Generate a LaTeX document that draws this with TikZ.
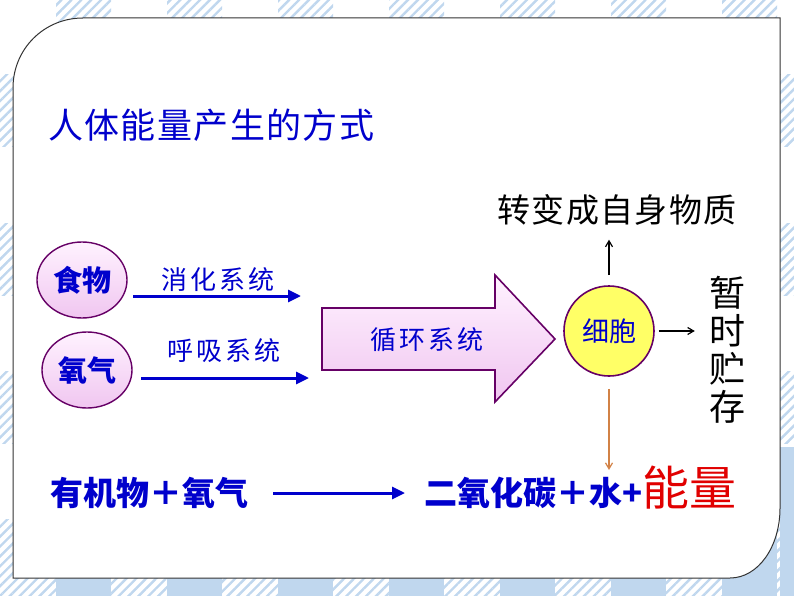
\documentclass[tikz,border=0pt]{standalone}
\usepackage{fontspec}
\newfontfamily\cjk{Noto Sans CJK SC}
\newfontfamily\cjkwide[LetterSpace=12]{Noto Sans CJK SC}
\newfontfamily\cjktight[LetterSpace=4]{Noto Sans CJK SC}
\usetikzlibrary{arrows.meta, patterns.meta, shapes.geometric}

\definecolor{txtblue}{RGB}{0,0,204}
\definecolor{txtred}{RGB}{225,0,0}
\definecolor{edgepurple}{RGB}{102,0,102}
\definecolor{pinktop}{RGB}{255,242,255}
\definecolor{pinkbot}{RGB}{240,198,240}
\definecolor{cellyellow}{RGB}{255,255,102}
\definecolor{bgblue}{RGB}{192,215,238}
\definecolor{brownline}{RGB}{210,130,70}

\tikzset{
  hatch/.style={pattern={Lines[angle=45,distance=7pt,line width=2.4pt]}, pattern color=bgblue},
  organ/.style={ellipse, draw=edgepurple, line width=1.4pt, top color=pinktop, bottom color=pinkbot,
    minimum width=90pt, minimum height=76pt, inner sep=0pt, text=txtblue,
    font=\cjk\bfseries\fontsize{29}{31}\selectfont},
  syslabel/.style={inner sep=0pt, text=txtblue, font=\cjkwide\fontsize{26}{28}\selectfont},
  bluearrow/.style={-{Triangle[length=13pt,width=12pt]}, txtblue, line width=3pt},
  thinarrow/.style={-{Straight Barb[length=6pt,width=7pt]}, black, line width=1.2pt},
  blackbig/.style={inner sep=0pt, text=black, font=\cjktight\fontsize{33}{35}\selectfont},
  eqn/.style={inner sep=0pt, text=txtblue, font=\cjk\bfseries\fontsize{33}{35}\selectfont}
}

\begin{document}
\begin{tikzpicture}[x=1pt, y=-1pt]
  \useasboundingbox (0,0) rectangle (794,596);

  % backdrop: hatched bands, solid where they cross
  \foreach \xx in {56,167,...,834} {
    \fill[hatch] (\xx,0) rectangle ++(55,596);
  }
  \foreach \yy in {75,223,371} {
    \fill[hatch] (0,\yy) rectangle ++(794,72);
  }
  \fill[hatch] (0,519) rectangle (794,596);
  \foreach \xx in {56,167,...,834} {
    \fill[bgblue] (\xx,519) rectangle ++(55,77);
  }
  \fill[bgblue] (780,447) rectangle (794,596);

  % panel
  \draw[line width=1pt, black!80, fill=white]
    (13,88) .. controls (13,49) and (44,18) .. (83,18) -- (780,18) -- (780,508)
    .. controls (780,547) and (758,578) .. (730,578) -- (13,578) -- cycle;

  % title
  \node[anchor=west, inner sep=0pt, text=txtblue, font=\cjktight\fontsize{35}{38}\selectfont]
    (ttl) at (48,125) {人体能量产生的方式};

  % food and oxygen
  \node[organ] (food) at (82,280) {食物};
  \node[organ] (oxy) at (87,370) {氧气};

  \coordinate (dstart) at (133,296);
  \coordinate (dend) at (301,296);
  \coordinate (rstart) at (141,378);
  \coordinate (rend) at (309,378);
  \draw[bluearrow] (dstart) -- (dend);
  \draw[bluearrow] (rstart) -- (rend);
  \node[syslabel] (digest) at (218,280) {消化系统};
  \node[syslabel] (breath) at (224,351) {呼吸系统};

  % circulation arrow
  \draw[edgepurple, line width=1.6pt, top color=pinktop, bottom color=pinkbot]
    (322,308) -- (495,308) -- (495,275) -- (555,339) -- (495,402) -- (495,370) -- (322,370) -- cycle;
  \node[syslabel] (circ) at (427,340) {循环系统};

  % cell
  \node[circle, draw=edgepurple, line width=1.6pt, fill=cellyellow, minimum size=90pt, inner sep=0pt,
    text=txtblue, font=\cjk\fontsize{27}{29}\selectfont] (cell) at (609,331) {细胞};

  \node[blackbig] (self) at (617,210) {转变成自身物质};
  \node[inner sep=0pt, align=center, text=black, font=\cjk\fontsize{36}{38}\selectfont]
    (store) at (727,350) {暂\\时\\贮\\存};

  \draw[thinarrow, shorten <=10pt, shorten >=14pt] (cell.north) -- (cell.north |- self.south);
  \draw[thinarrow, shorten <=4pt, shorten >=14pt] (cell.east) -- (cell.east -| store.west);

  \coordinate (eend) at (609,470);
  \draw[-{Straight Barb[length=6pt,width=7pt]}, brownline, line width=1.2pt, shorten <=12pt] (cell.south) -- (eend);

  % equation
  \node[eqn, anchor=west] (lhs) at (50,493) {有机物＋氧气};
  \node[eqn, anchor=west] (rhs) at (424,493) {二氧化碳＋水+};
  \node[anchor=base west, inner sep=0pt, text=txtred, font=\cjk\fontsize{47}{49}\selectfont]
    (energy) at (rhs.base east) {能量};
  \draw[bluearrow, shorten <=25pt, shorten >=19pt] (lhs.east) -- (rhs.west);
\end{tikzpicture}
\end{document}
